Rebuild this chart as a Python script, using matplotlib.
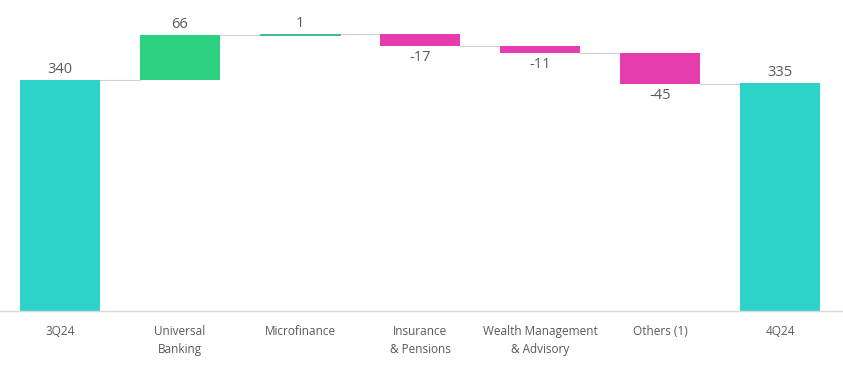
import matplotlib.pyplot as plt

categories = ["3Q24", "Universal\nBanking", "Microfinance", "Insurance\n& Pensions",
              "Wealth Management\n& Advisory", "Others (1)", "4Q24"]
values = [340, 66, 1, -17, -11, -45, 335]
labels = ["340", "66", "1", "-17", "-11", "-45", "335"]

TEAL = "#2DD3C9"
GREEN = "#2BD17F"
PINK = "#E63DAE"
TXT = "#595959"

plt.rcParams["font.family"] = ["Open Sans", "DejaVu Sans"]

fig = plt.figure(figsize=(8.43, 3.68), dpi=100)
ax = fig.add_axes([0, 57 / 368, 1, 311 / 368])

n = len(values)
w = 2 / 3
running = 0
tops = []
for i, v in enumerate(values):
    if i == 0 or i == n - 1:
        running = v
        ax.bar(i, v, width=w, color=TEAL, zorder=2)
        ax.text(i, v + 4, labels[i], ha="center", va="bottom", fontsize=10.5, color=TXT)
    else:
        start = running
        running = running + v
        col = GREEN if v > 0 else PINK
        bottom = min(start, running)
        if abs(v) < 2:
            # tiny change: draw as a thin bar outline
            ax.bar(i, abs(v), bottom=bottom, width=w, color="#33B889", zorder=2,
                   linewidth=0.6, edgecolor="#33B889")
        else:
            ax.bar(i, abs(v), bottom=bottom, width=w, color=col, zorder=2)
        if v > 0:
            ax.text(i, running + 4, labels[i], ha="center", va="bottom", fontsize=10.5, color=TXT)
        else:
            ax.text(i, running - 6, labels[i], ha="center", va="top", fontsize=10.5, color=TXT)
    tops.append(running)

# connectors
for i in range(n - 1):
    lvl = tops[i]
    ax.plot([i + w / 2, i + 1 - w / 2], [lvl, lvl], color="#D0D0D0", lw=0.8, zorder=1)

ax.set_xlim(-0.5, 843 / 120 - 0.5)
ax.set_ylim(0, 457)
ax.set_xticks(range(n))
ax.set_xticklabels(categories, fontsize=8.5, color=TXT, linespacing=1.55)
ax.tick_params(axis="x", length=0, pad=10)
ax.set_yticks([])
for s in ["top", "right", "left"]:
    ax.spines[s].set_visible(False)
ax.spines["bottom"].set_color("#D9D9D9")
ax.spines["bottom"].set_linewidth(1)

fig.savefig("out.png", dpi=100)
